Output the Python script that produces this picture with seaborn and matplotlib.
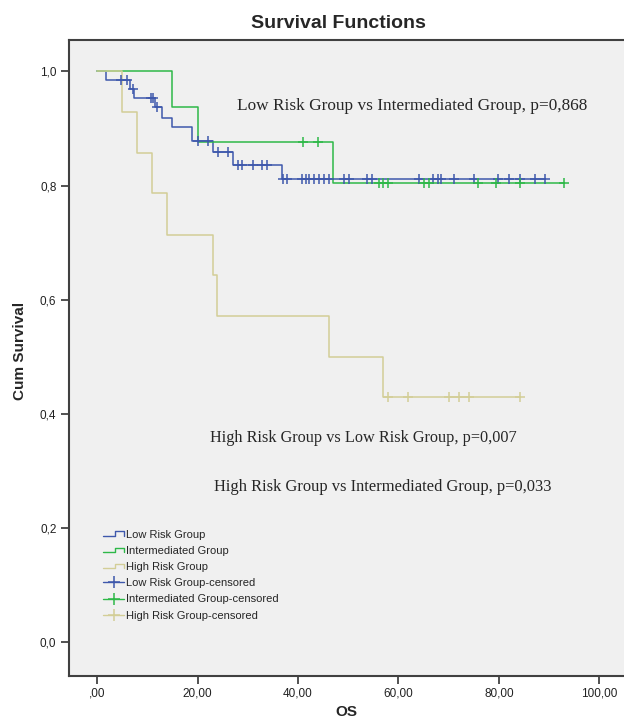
import numpy as np
import pandas as pd
import matplotlib
matplotlib.use("Agg")
import matplotlib.pyplot as plt
import seaborn as sns
from matplotlib.legend_handler import HandlerBase
from matplotlib.lines import Line2D

# ---------------- data ----------------
groups = ["Low Risk Group", "Intermediated Group", "High Risk Group"]
colors = ["#3E58AC", "#2EB848", "#D3CE97"]

low_times = [0.0, 1.8, 6.5, 7.4, 11.6, 12.9, 15.0, 19.0, 23.0, 27.1, 36.8]
low_surv = [1.0, 0.985, 0.969, 0.953, 0.937, 0.919, 0.902, 0.878, 0.858, 0.836, 0.811]
low_end = 89.1
low_censor = [4.8, 5.9, 7.2, 10.8, 11.2, 12.0, 20.0, 22.0, 24.0, 26.0, 28.1, 28.9,
              31.0, 32.9, 33.9, 37.0, 37.9, 40.9, 41.5, 42.2, 43.2, 44.2, 45.2, 46.2,
              49.2, 50.2, 53.8, 54.8, 64.1, 66.8, 67.8, 68.5, 71.1, 75.1, 79.8, 82.1,
              84.1, 87.1, 89.1]

int_times = [0.0, 15.0, 20.0, 46.9]
int_surv = [1.0, 0.938, 0.877, 0.804]
int_end = 93.0
int_censor = [41.0, 44.0, 56.2, 57.0, 58.0, 65.1, 66.0, 75.8, 79.5, 84.1, 93.0]

high_times = [0.0, 5.0, 7.9, 11.0, 14.0, 23.1, 23.9, 46.1, 57.0]
high_surv = [1.0, 0.929, 0.857, 0.786, 0.714, 0.643, 0.571, 0.500, 0.429]
high_end = 84.2
high_censor = [58.0, 62.0, 70.1, 72.0, 74.0, 84.2]

x_ticks = [0, 20, 40, 60, 80, 100]
x_ticklabels = [",00", "20,00", "40,00", "60,00", "80,00", "100,00"]
y_ticks = [0.0, 0.2, 0.4, 0.6, 0.8, 1.0]
y_ticklabels = ["0,0", "0,2", "0,4", "0,6", "0,8", "1,0"]

annotations = [
    "Low Risk Group vs Intermediated Group, p=0,868",
    "High Risk Group vs Low Risk Group, p=0,007",
    "High Risk Group vs Intermediated Group, p=0,033",
]

# ---------------- build tables ----------------
step_rows = []
cens_rows = []
for g, t, s, end, cens in [
    (groups[0], low_times, low_surv, low_end, low_censor),
    (groups[1], int_times, int_surv, int_end, int_censor),
    (groups[2], high_times, high_surv, high_end, high_censor),
]:
    for ti, si in zip(t, s):
        step_rows.append((g, ti, si))
    step_rows.append((g, end, s[-1]))
    t_arr = np.asarray(t)
    s_arr = np.asarray(s)
    for c in cens:
        idx = np.searchsorted(t_arr, c, side="right") - 1
        cens_rows.append((g, c, s_arr[idx]))

steps = pd.DataFrame(step_rows, columns=["group", "time", "surv"])
cens = pd.DataFrame(cens_rows, columns=["group", "time", "surv"])
palette = dict(zip(groups, colors))

# ---------------- plot ----------------
sns.set_style("white")
plt.rcParams["font.family"] = ["Liberation Sans", "DejaVu Sans"]

fig = plt.figure(figsize=(6.24, 7.23), dpi=100)
ax = fig.add_axes([69 / 624, 1 - 676 / 723, (624 - 69) / 624, (676 - 40) / 723])
ax.set_facecolor("#f0f0f0")

for g in groups:
    sns.lineplot(data=steps[steps.group == g], x="time", y="surv", color=palette[g],
                 drawstyle="steps-post", estimator=None, sort=False, lw=1.1,
                 legend=False, ax=ax)
for g in groups:
    sns.scatterplot(data=cens[cens.group == g], x="time", y="surv", color=palette[g],
                    marker="+", s=55, linewidth=1.1, legend=False, ax=ax, zorder=3)

ax.set_xlim(-5.58, 104.9)
ax.set_ylim(-0.0596, 1.055)
ax.set_xticks(x_ticks)
ax.set_xticklabels(x_ticklabels)
ax.set_yticks(y_ticks)
ax.set_yticklabels(y_ticklabels)
ax.tick_params(axis="both", direction="out", length=6, width=1.2, colors="#333333",
               labelsize=8.5, labelcolor="#222222", bottom=True, left=True, pad=2)
ax.tick_params(axis="y", pad=3)
for side in ["left", "bottom", "top"]:
    ax.spines[side].set_color("#404040")
    ax.spines[side].set_linewidth(1.5)
ax.spines["right"].set_visible(False)

ax.set_xlabel("OS", fontsize=11, fontweight="bold")
ax.set_ylabel("Cum Survival", fontsize=11, fontweight="bold")
ax.xaxis.set_label_coords((346 - 69) / 555, (676 - 705) / 636)
ax.yaxis.set_label_coords((27 - 69) / 555, (676 - 351) / 636)
fig.text(338 / 624, 1 - 23 / 723, "Survival Functions", ha="center", va="center",
         fontsize=14, fontweight="bold")

serif = ["Liberation Serif", "DejaVu Serif"]
ax.text(27.9, 0.940, annotations[0], family=serif, fontsize=12.4, va="center", ha="left")
ax.text(22.5, 0.357, annotations[1], family=serif, fontsize=11.7, va="center", ha="left")
ax.text(23.3, 0.271, annotations[2], family=serif, fontsize=11.9, va="center", ha="left")


class StepHandler(HandlerBase):
    def create_artists(self, legend, orig_handle, xdescent, ydescent, width, height,
                       fontsize, trans):
        lo = -ydescent + 0.25 * height
        hi = -ydescent + 0.85 * height
        xs = np.array([0, 0.55, 0.55, 1.0, 1.0]) * width - xdescent
        ys = [lo, lo, hi, hi, lo]
        ln = Line2D(xs, ys, color=orig_handle.get_color(), lw=1.0, transform=trans)
        return [ln]


step_handles = [Line2D([], [], color=c) for c in colors]
cens_handles = [Line2D([], [], color=c, marker="+", markersize=9, lw=1.0, mew=1.1)
                for c in colors]
handles = step_handles + cens_handles
labels = groups + [g + "-censored" for g in groups]
handler_map = {h: StepHandler() for h in step_handles}
ax.legend(handles, labels, handler_map=handler_map, loc="upper left",
          bbox_to_anchor=((103 - 69) / 555, 1 - (530 - 40) / 636), frameon=False,
          fontsize=8, handlelength=1.9, handletextpad=0.2, labelspacing=0.55,
          borderpad=0, borderaxespad=0)

fig.savefig("out.png", dpi=100, facecolor="white")
